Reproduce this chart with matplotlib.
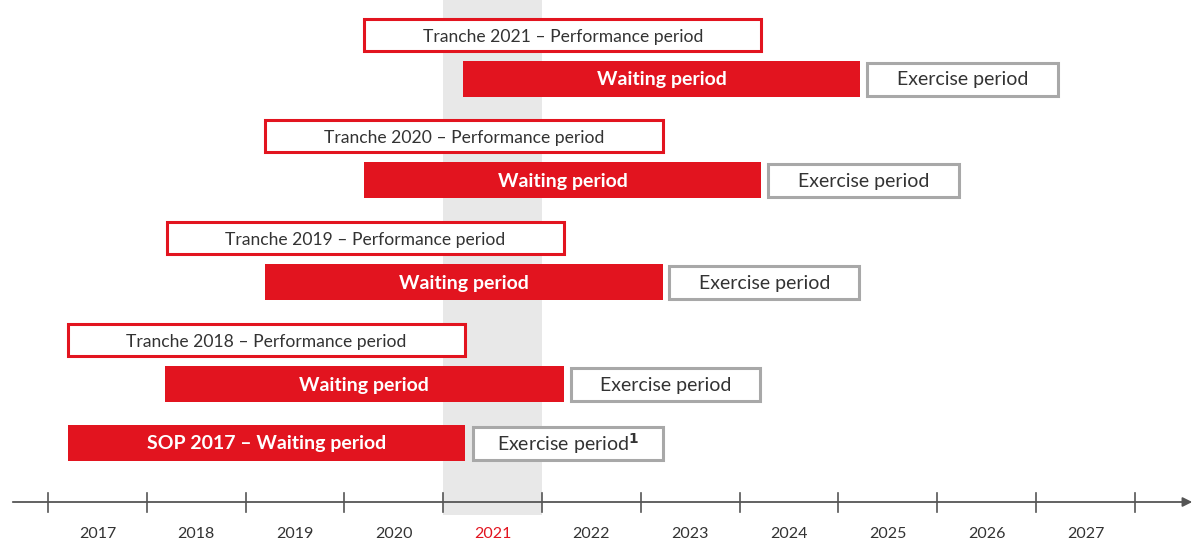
import matplotlib.pyplot as plt

# tranche data (years as decimal positions on the timeline)
tranches = ['SOP 2017', 'Tranche 2018', 'Tranche 2019', 'Tranche 2020', 'Tranche 2021']
perf_start = [None, 2017.2, 2018.2, 2019.2, 2020.2]
perf_end = [None, 2021.22, 2022.22, 2023.22, 2024.22]
wait_start = [2017.2, 2018.18, 2019.2, 2020.2, 2021.2]
wait_end = [2021.22, 2022.22, 2023.22, 2024.22, 2025.22]
ex_start = [2021.3, 2022.29, 2023.29, 2024.29, 2025.29]
ex_end = [2023.22, 2024.21, 2025.21, 2026.22, 2027.22]
years = [2017, 2018, 2019, 2020, 2021, 2022, 2023, 2024, 2025, 2026, 2027]
current_year = 2021

red = '#e2141f'
grey_edge = '#a8a8a8'
text_dark = '#333333'

# vertical layout (pixel rows, y axis inverted)
wait_y = [443, 384, 282, 180, 79]
perf_y = [None, 340, 238, 136, 35]
bar_h = 36
perf_h = 32

plt.rcParams['font.family'] = ['Lato', 'DejaVu Sans']

fig = plt.figure(figsize=(11.95, 5.41), dpi=100)
ax = fig.add_axes([0, 0, 1, 1])
x0 = 2017 - 48 / 98.8
x1 = 2017 + 1147 / 98.8
ax.set_xlim(x0, x1)
ax.set_ylim(541, 0)
ax.axis('off')

# highlighted current year band
ax.fill_between([current_year, current_year + 1], 0, 515, color='#e8e8e8', lw=0, zorder=0)

for i in range(len(tranches)):
    # waiting period
    ax.barh(wait_y[i], wait_end[i] - wait_start[i], left=wait_start[i], height=bar_h,
            color=red, edgecolor='none', zorder=2)
    lab = 'SOP 2017 – Waiting period' if i == 0 else 'Waiting period'
    ax.text((wait_start[i] + wait_end[i]) / 2, wait_y[i] + 1, lab, color='white',
            fontsize=14, fontweight='bold', ha='center', va='center', zorder=3)
    # exercise period
    ax.barh(wait_y[i], ex_end[i] - ex_start[i], left=ex_start[i], height=bar_h - 3,
            color='white', edgecolor=grey_edge, linewidth=2.2, zorder=2)
    lab = 'Exercise period$^{\\mathbf{1}}$' if i == 0 else 'Exercise period'
    ax.text((ex_start[i] + ex_end[i]) / 2, wait_y[i] + 1, lab, color=text_dark,
            fontsize=14, ha='center', va='center', zorder=3)
    # performance period
    if perf_start[i] is not None:
        ax.barh(perf_y[i], perf_end[i] - perf_start[i], left=perf_start[i], height=perf_h,
                color='white', edgecolor=red, linewidth=2.2, zorder=2)
        ax.text((perf_start[i] + perf_end[i]) / 2, perf_y[i] + 2,
                tranches[i] + ' – Performance period', color=text_dark,
                fontsize=12.6, ha='center', va='center', zorder=3)

# timeline axis
ax.annotate('', xy=(x1, 502), xytext=(x0 + 10 / 98.8, 502),
            arrowprops=dict(arrowstyle='-|>', color='#555555', lw=1.3, mutation_scale=14))
for y in years + [2028]:
    ax.plot([y, y], [493, 512], color='#555555', lw=1.2, zorder=3)
for y in years:
    ax.text(y + 0.5, 534, str(y), fontsize=11.5, ha='center', va='center',
            color=red if y == current_year else text_dark)

fig.savefig('out.png', dpi=100)
